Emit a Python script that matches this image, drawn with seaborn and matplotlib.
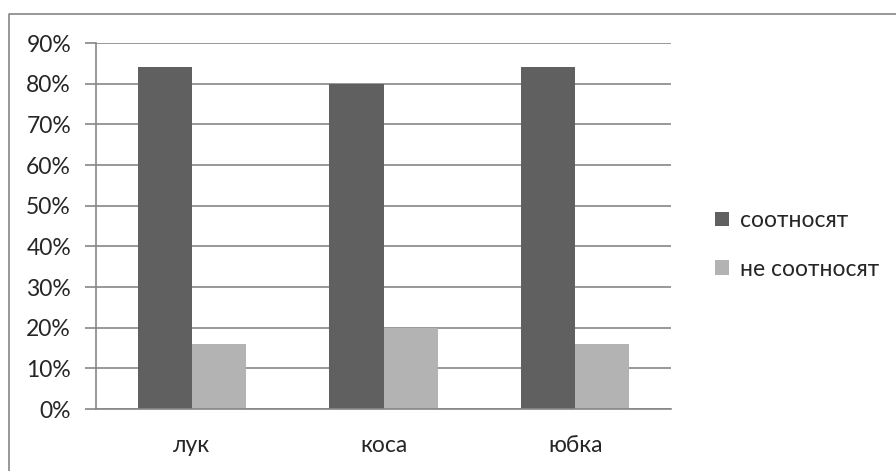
import seaborn as sns
import matplotlib.pyplot as plt
import pandas as pd
from matplotlib.lines import Line2D
from matplotlib.ticker import PercentFormatter, FixedLocator

categories = ["лук", "коса", "юбка"]
series = ["соотносят", "не соотносят"]
correlate = [84, 80, 84]
not_correlate = [16, 20, 16]

df = pd.DataFrame({
    "cat": categories * 2,
    "group": [series[0]] * 3 + [series[1]] * 3,
    "value": correlate + not_correlate,
})

sns.set_style("white")
plt.rcParams["font.family"] = ["Lato", "DejaVu Sans"]

fig = plt.figure(figsize=(8.96, 4.71), dpi=100)
# outer frame: only left and top edges are visible in the original
x0, y0 = 8.5 / 896, 1 - 13.5 / 471
fig.add_artist(Line2D([x0, x0, 1.0], [0.0, y0, y0], transform=fig.transFigure,
                      color="#868686", linewidth=1.2))

ax = fig.add_axes([96 / 896, 1 - 409 / 471, 575 / 896, 366 / 471])
sns.barplot(data=df, x="cat", y="value", hue="group", ax=ax,
            palette=["#606060", "#b3b3b3"], width=0.566, saturation=1,
            edgecolor="none", legend=True)

ax.set_ylim(0, 90)
ax.set_xlim(-0.5, 2.5)
ax.set_yticks(range(0, 91, 10))
ax.yaxis.set_major_formatter(PercentFormatter(decimals=0))
ax.grid(axis="y", color="#868686", linewidth=1.2)
ax.set_axisbelow(True)
for s in ["top", "right"]:
    ax.spines[s].set_visible(False)
for s in ["left", "bottom"]:
    ax.spines[s].set_color("#868686")
    ax.spines[s].set_linewidth(1.2)

ax.xaxis.set_minor_locator(FixedLocator([-0.5, 0.5, 1.5, 2.5]))
ax.tick_params(axis="x", which="major", length=0, pad=19, labelsize=16.5)
ax.tick_params(axis="x", which="minor", length=8, width=1.2, color="#868686")
ax.tick_params(axis="y", length=8, width=1.2, color="#868686", labelsize=16.5,
               pad=10, left=True)
ax.set_xlabel("")
ax.set_ylabel("")

ax.legend(loc="center left", bbox_to_anchor=(706 / 896, 1 - 245 / 471),
          bbox_transform=fig.transFigure, frameon=False, borderaxespad=0,
          fontsize=16.5, handlelength=0.6, handleheight=0.6, labelspacing=1.2,
          handletextpad=0.5)

fig.savefig("out.png", dpi=100)
